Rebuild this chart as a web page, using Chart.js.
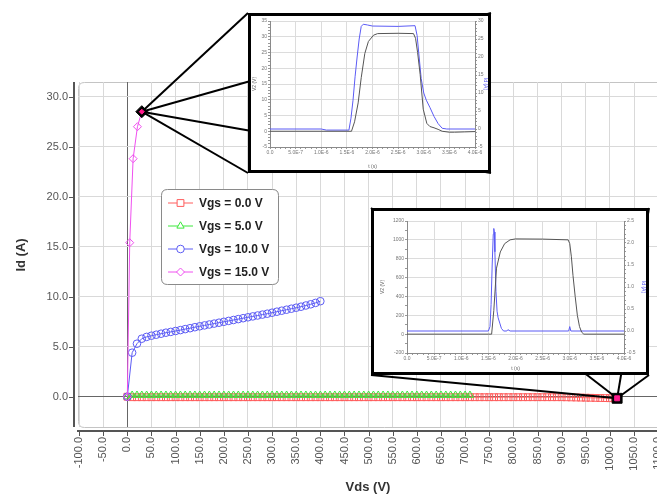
<!DOCTYPE html>
<html>
<head>
<meta charset="utf-8">
<script src="https://cdn.jsdelivr.net/npm/chart.js@4.4.1/dist/chart.umd.min.js"></script>
<style>
  html, body { margin: 0; padding: 0; background: #fff; overflow: hidden; }
  #wrap { position: relative; width: 657px; height: 496px; overflow: hidden; }
  #main { position: absolute; left: 0; top: 0; }
  .zoombox { position: absolute; border: 3px solid #000; background: #fff; box-sizing: border-box; }
  .zoombox canvas { position: absolute; left: 0; top: 0; }
</style>
</head>
<body>
<div id="wrap">
  <canvas id="main" width="700" height="496"></canvas>
  <div class="zoombox" id="boxTop"><canvas id="insetTop"></canvas></div>
  <div class="zoombox" id="boxLow"><canvas id="insetLow"></canvas></div>
</div>
<script>
// ---- main chart data: Id (A) vs Vds (V) ----
const vds0 = [0,10,20,30,40,50,60,70,80,90,100,110,120,130,140,150,160,170,180,190,
  200,210,220,230,240,250,260,270,280,290,300,310,320,330,340,350,360,370,380,390,
  400,410,420,430,440,450,460,470,480,490,500,510,520,530,540,550,560,570,580,590,
  600,610,620,630,640,650,660,670,680,690,700,710,720,730,740,750,760,770,780,790,
  800,810,820,830,840,850,860,870,880,890,900,910,920,930,940,950,960,970,980,990,
  1000,1010];
const id0 = [0,-0.05,-0.05,-0.05,-0.05,-0.05,-0.05,-0.05,-0.05,-0.05,
  -0.05,-0.05,-0.05,-0.05,-0.05,-0.05,-0.05,-0.05,-0.05,-0.05,
  -0.05,-0.05,-0.05,-0.05,-0.05,-0.05,-0.05,-0.05,-0.05,-0.05,
  -0.05,-0.05,-0.05,-0.05,-0.05,-0.05,-0.05,-0.05,-0.05,-0.05,
  -0.05,-0.05,-0.05,-0.05,-0.05,-0.05,-0.05,-0.05,-0.05,-0.05,
  -0.05,-0.05,-0.05,-0.05,-0.05,-0.05,-0.05,-0.05,-0.05,-0.05,
  -0.05,-0.05,-0.05,-0.05,-0.05,-0.05,-0.05,-0.05,-0.05,-0.05,
  -0.05,-0.05,-0.05,-0.05,-0.05,-0.05,-0.05,-0.05,-0.05,-0.05,
  -0.05,-0.05,-0.05,-0.05,-0.05,-0.05,-0.05,-0.05,-0.05,-0.05,
  -0.05,-0.06,-0.07,-0.08,-0.09,-0.10,-0.11,-0.12,-0.13,-0.14,
  -0.15,-0.16];

const vds5 = [0,10,20,30,40,50,60,70,80,90,100,110,120,130,140,150,160,170,180,190,
  200,210,220,230,240,250,260,270,280,290,300,310,320,330,340,350,360,370,380,390,
  400,410,420,430,440,450,460,470,480,490,500,510,520,530,540,550,560,570,580,590,
  600,610,620,630,640,650,660,670,680,690,700,710];
const id5 = [0,0.15,0.15,0.15,0.15,0.15,0.15,0.15,0.15,0.15,
  0.15,0.15,0.15,0.15,0.15,0.15,0.15,0.15,0.15,0.15,
  0.15,0.15,0.15,0.15,0.15,0.15,0.15,0.15,0.15,0.15,
  0.15,0.15,0.15,0.15,0.15,0.15,0.15,0.15,0.15,0.15,
  0.15,0.15,0.15,0.15,0.15,0.15,0.15,0.15,0.15,0.15,
  0.15,0.15,0.15,0.15,0.15,0.15,0.15,0.15,0.15,0.15,
  0.15,0.15,0.15,0.15,0.15,0.15,0.15,0.15,0.15,0.15,
  0.15,0.15];

const vds10 = [0,10,20,30,40,50,60,70,80,90,100,110,120,130,140,150,160,170,180,190,
  200,210,220,230,240,250,260,270,280,290,300,310,320,330,340,350,360,370,380,390,400];
const id10 = [0,4.4,5.3,5.8,5.98,6.1,6.2,6.3,6.4,6.48,6.57,6.66,6.76,6.85,6.95,7.04,7.13,7.22,7.31,7.4,
  7.49,7.58,7.67,7.76,7.85,7.94,8.03,8.12,8.21,8.3,8.4,8.5,8.6,8.7,8.8,8.9,9.0,9.12,9.24,9.38,9.55];

const vds15 = [0, 5, 12, 21, 30];
const id15 = [0, 15.4, 23.8, 27.0, 28.5];

const xTicks = [-100,-50,0,50,100,150,200,250,300,350,400,450,500,550,600,650,700,750,800,850,900,950,1000,1050,1100];
const yTicks = [0,5,10,15,20,25,30];

// zoomed operating points (Vds, Id)
const calloutVds = [30, 1015];
const calloutId = [28.5, -0.16];

// ---- inset waveforms, time in microseconds ----
const topTimeV = [0,1.59,1.65,1.72,1.78,1.85,1.92,2.02,2.1,2.5,2.8,2.84,2.88,2.93,2.99,3.06,3.12,3.2,3.28,3.36,3.5,3.6,3.8,4.0];
const topV2 = [0,0,3,9,17,24.7,28.5,30.5,31,31.1,31,29.5,25,18,7,2.5,1.5,1.1,0.6,0,-0.3,-0.3,-0.2,-0.1];
const topTimeI = [0,1.0,1.1,1.54,1.58,1.62,1.66,1.7,1.74,1.78,1.82,1.9,2.0,2.5,2.83,2.87,2.91,2.95,3.0,3.05,3.12,3.2,3.28,3.36,3.45,4.0];
const topId = [0,0,-0.3,-0.3,3,8,14.5,20,25,28.5,29.1,28.9,28.6,28.5,28.7,26,20,14,10,8,6,3.5,1.5,0.2,0,0];

const lowTimeV = [0,1.5,1.56,1.6,1.65,1.72,1.8,1.9,2.0,2.5,2.97,3.0,3.03,3.06,3.1,3.14,3.18,3.22,3.26,4.0];
const lowV2 = [0,0,0,250,700,872,960,1000,1010,1008,1000,960,820,620,400,200,80,20,0,0];
const lowTimeI = [0,1.5,1.53,1.55,1.57,1.59,1.6,1.61,1.62,1.64,1.66,1.68,1.71,1.74,1.78,1.84,1.86,1.9,2.98,3.0,3.02,4.0];
const lowId = [0,0,0.1,0.6,1.5,2.2,2.33,2.25,1.8,0.9,0.45,0.3,0.18,0.06,0,0,0.03,0,0,0.1,0,0];

const tMajor = [0,0.5,1.0,1.5,2.0,2.5,3.0,3.5,4.0];
const tLabels = ['0.0','5.0E-7','1.0E-6','1.5E-6','2.0E-6','2.5E-6','3.0E-6','3.5E-6','4.0E-6'];
const topLeftMajor = [-5,0,5,10,15,20,25,30,35];
const topLeftLabels = ['-5','0','5','10','15','20','25','30','35'];
const topRightMajor = [-5,0,5,10,15,20,25,30];
const topRightLabels = ['-5','0','5','10','15','20','25','30'];
const lowLeftMajor = [-200,0,200,400,600,800,1000,1200];
const lowLeftLabels = ['-200','0','200','400','600','800','1000','1200'];
const lowRightMajor = [-0.5,0,0.5,1.0,1.5,2.0,2.5];
const lowRightLabels = ['-0.5','0.0','0.5','1.0','1.5','2.0','2.5'];

// ---- layout ----
const fam = '"Liberation Sans", Arial, sans-serif';
const boxTop = { x: 248, y: 13, w: 243, h: 160 };
const boxLow = { x: 371, y: 208, w: 278, h: 167 };

const series = [
  { label: 'Vgs = 0.0 V', xs: vds0, ys: id0, color: '#ff5c5c', style: 'rect', r: 4.8, order: 3 },
  { label: 'Vgs = 5.0 V', xs: vds5, ys: id5, color: '#3ce83c', style: 'triangle', r: 4.2, order: 2 },
  { label: 'Vgs = 10.0 V', xs: vds10, ys: id10, color: '#5c5cf5', style: 'circle', r: 3.8, order: 1 },
  { label: 'Vgs = 15.0 V', xs: vds15, ys: id15, color: '#f050f0', style: 'rectRot', r: 4, order: 0 }
];

function pts(xs, ys) { return xs.map((x, i) => ({ x: x, y: ys[i] })); }

function drawMark(ctx, style, x, y, r) {
  ctx.beginPath();
  if (style === 'rect') {
    const s = r * Math.SQRT1_2;
    ctx.rect(x - s, y - s, 2 * s, 2 * s);
  } else if (style === 'triangle') {
    ctx.moveTo(x, y - r);
    ctx.lineTo(x + r * 0.866, y + r * 0.5);
    ctx.lineTo(x - r * 0.866, y + r * 0.5);
    ctx.closePath();
  } else if (style === 'circle') {
    ctx.arc(x, y, r, 0, Math.PI * 2);
  } else {
    ctx.moveTo(x, y - r); ctx.lineTo(x + r, y); ctx.lineTo(x, y + r); ctx.lineTo(x - r, y);
    ctx.closePath();
  }
  ctx.fill();
  ctx.stroke();
}

function roundRect(ctx, x, y, w, h, r) {
  ctx.beginPath();
  ctx.moveTo(x + r, y);
  ctx.lineTo(x + w - r, y); ctx.quadraticCurveTo(x + w, y, x + w, y + r);
  ctx.lineTo(x + w, y + h - r); ctx.quadraticCurveTo(x + w, y + h, x + w - r, y + h);
  ctx.lineTo(x + r, y + h); ctx.quadraticCurveTo(x, y + h, x, y + h - r);
  ctx.lineTo(x, y + r); ctx.quadraticCurveTo(x, y, x + r, y);
  ctx.closePath();
}

// plot frame, axis lines, legend, titles and zoom callouts
const framePlugin = {
  id: 'frame',
  beforeDraw(chart) {
    const ctx = chart.ctx, a = chart.chartArea;
    ctx.save();
    roundRect(ctx, a.left + 0.5, a.top + 0.5, a.right - a.left, a.bottom - a.top, 6);
    ctx.fillStyle = '#fff';
    ctx.fill();
    ctx.strokeStyle = '#c4c4c4';
    ctx.lineWidth = 1;
    ctx.stroke();
    ctx.restore();
  },
  afterDatasetsDraw(chart) {
    const ctx = chart.ctx, xs = chart.scales.x, ys = chart.scales.y;
    [boxTop, boxLow].forEach((b, i) => {
      const px = xs.getPixelForValue(calloutVds[i]);
      const py = ys.getPixelForValue(calloutId[i]);
      ctx.save();
      ctx.strokeStyle = '#000';
      ctx.lineWidth = 2;
      [[b.x, b.y], [b.x + b.w, b.y], [b.x, b.y + b.h], [b.x + b.w, b.y + b.h]].forEach(c => {
        ctx.beginPath(); ctx.moveTo(px, py); ctx.lineTo(c[0], c[1]); ctx.stroke();
      });
      ctx.fillStyle = '#000';
      ctx.lineWidth = 1;
      drawMark(ctx, i === 0 ? 'rectRot' : 'rect', px, py, i === 0 ? 6 : 7);
      ctx.fillStyle = '#ff1a8c';
      ctx.strokeStyle = '#ff1a8c';
      drawMark(ctx, i === 0 ? 'rectRot' : 'rect', px, py, i === 0 ? 2.5 : 3.5);
      ctx.restore();
    });
  },
  afterDraw(chart) {
    const ctx = chart.ctx, a = chart.chartArea, xs = chart.scales.x, ys = chart.scales.y;
    ctx.save();
    // axis lines, offset from the plot frame
    ctx.strokeStyle = '#555';
    ctx.lineWidth = 2;
    ctx.beginPath(); ctx.moveTo(74, a.top); ctx.lineTo(74, a.bottom); ctx.stroke();
    ctx.beginPath(); ctx.moveTo(77, 431); ctx.lineTo(a.right, 431); ctx.stroke();
    ctx.lineWidth = 1;
    yTicks.forEach(v => {
      const y = Math.round(ys.getPixelForValue(v)) + 0.5;
      ctx.beginPath(); ctx.moveTo(69, y); ctx.lineTo(74, y); ctx.stroke();
    });
    xTicks.forEach(v => {
      const x = Math.round(xs.getPixelForValue(v)) + 0.5;
      ctx.beginPath(); ctx.moveTo(x, 431); ctx.lineTo(x, 436); ctx.stroke();
    });
    // axis titles
    ctx.fillStyle = '#333';
    ctx.font = 'bold 13px ' + fam;
    ctx.textAlign = 'center';
    ctx.textBaseline = 'middle';
    ctx.fillText('Vds (V)', 368, 487);
    ctx.save();
    ctx.translate(21, 255);
    ctx.rotate(-Math.PI / 2);
    ctx.fillText('Id (A)', 0, 0);
    ctx.restore();
    // legend
    const lx = 161.5, ly = 189.5, lw = 117, lh = 95;
    roundRect(ctx, lx, ly, lw, lh, 6);
    ctx.fillStyle = '#fff';
    ctx.fill();
    ctx.strokeStyle = '#8a8a8a';
    ctx.lineWidth = 1;
    ctx.stroke();
    series.forEach((s, i) => {
      const yy = 203 + i * 23;
      ctx.strokeStyle = s.color;
      ctx.lineWidth = 1;
      ctx.beginPath(); ctx.moveTo(168, yy); ctx.lineTo(193, yy); ctx.stroke();
      ctx.fillStyle = '#fff';
      drawMark(ctx, s.style, 180.5, yy, s.r);
      ctx.fillStyle = '#222';
      ctx.font = 'bold 12px ' + fam;
      ctx.textAlign = 'left';
      ctx.textBaseline = 'middle';
      ctx.fillText(s.label, 199, yy + 0.5);
    });
    ctx.restore();
  }
};

Chart.defaults.font.family = fam;

new Chart(document.getElementById('main'), {
  type: 'scatter',
  data: {
    datasets: series.map(s => ({
      label: s.label,
      data: pts(s.xs, s.ys),
      showLine: true,
      borderColor: s.color,
      borderWidth: 1,
      pointStyle: s.style,
      pointRadius: s.r,
      pointBorderColor: s.color,
      pointBackgroundColor: 'rgba(0,0,0,0)',
      pointBorderWidth: 1,
      order: s.order
    }))
  },
  options: {
    responsive: false,
    animation: false,
    devicePixelRatio: 1,
    events: [],
    layout: { padding: { top: 82, right: 10, left: 0, bottom: 0 } },
    plugins: { legend: { display: false }, tooltip: { enabled: false } },
    scales: {
      x: {
        type: 'linear', min: -102.2, max: 1166,
        afterBuildTicks: s => { s.ticks = xTicks.map(v => ({ value: v })); },
        afterFit: s => { s.height = 69; },
        grid: { color: c => (c.tick && c.tick.value === 0) ? '#666' : '#d9d9d9', drawTicks: false },
        border: { display: false },
        ticks: {
          autoSkip: false, minRotation: 90, maxRotation: 90, padding: 10,
          color: '#555', font: { family: fam, size: 11 },
          callback: v => v.toFixed(1)
        }
      },
      y: {
        type: 'linear', min: -3.03, max: 31.47,
        afterBuildTicks: s => { s.ticks = yTicks.map(v => ({ value: v })); },
        afterFit: s => { s.width = 78; },
        grid: { color: c => (c.tick && c.tick.value === 0) ? '#666' : '#d9d9d9', drawTicks: false },
        border: { display: false },
        ticks: { padding: 10, color: '#555', font: { family: fam, size: 11 }, callback: v => v.toFixed(1) }
      }
    }
  },
  plugins: [framePlugin]
});

// ---- insets ----
function majorIdx(v, majors) {
  if (v === undefined || v === null) return -1;
  for (let i = 0; i < majors.length; i++) if (Math.abs(v - majors[i]) < 1e-6) return i;
  return -1;
}

function insetAxis(pos, min, max, minorStep, majors, labels, size, title, titleColor, titlePad) {
  return {
    type: 'linear', position: pos, min: min, max: max,
    afterBuildTicks: s => {
      const t = [];
      const n = Math.round((max - min) / minorStep);
      for (let i = 0; i <= n; i++) t.push({ value: +(min + i * minorStep).toFixed(6) });
      s.ticks = t;
    },
    afterFit: s => { if (pos === 'bottom') s.height = size; else s.width = size; },
    grid: {
      color: c => majorIdx(c.tick && c.tick.value, majors) >= 0 ? '#dcdcdc' : 'rgba(0,0,0,0)',
      drawOnChartArea: pos !== 'right',
      tickLength: 2, tickColor: '#999', lineWidth: 1
    },
    border: { display: true, color: '#8a8a8a' },
    ticks: {
      autoSkip: false, maxRotation: 0, minRotation: 0, padding: 1,
      color: '#777', font: { family: fam, size: 5 },
      callback: v => { const k = majorIdx(v, majors); return k >= 0 ? labels[k] : ''; }
    },
    title: { display: true, text: title, color: titleColor, font: { family: fam, size: 5 }, padding: { top: titlePad, bottom: 0 } }
  };
}

function makeInset(boxId, canvasId, box, o) {
  const div = document.getElementById(boxId);
  div.style.left = box.x + 'px';
  div.style.top = box.y + 'px';
  div.style.width = box.w + 'px';
  div.style.height = box.h + 'px';
  const cv = document.getElementById(canvasId);
  cv.width = box.w - 6;
  cv.height = box.h - 6;
  new Chart(cv, {
    type: 'scatter',
    data: {
      datasets: [
        { data: pts(o.tA, o.vA), yAxisID: 'y', showLine: true, borderColor: '#555', borderWidth: 1, pointRadius: 0 },
        { data: pts(o.tB, o.vB), yAxisID: 'y2', showLine: true, borderColor: '#5b5bf5', borderWidth: 1, pointRadius: 0 }
      ]
    },
    options: {
      responsive: false, animation: false, devicePixelRatio: 1, events: [],
      layout: { padding: { top: o.top, left: 0, right: 0, bottom: 0 } },
      plugins: { legend: { display: false }, tooltip: { enabled: false } },
      scales: {
        x: insetAxis('bottom', 0, 4, 0.1, tMajor, tLabels, o.bottomH, 't (s)', '#666', o.xPad),
        y: insetAxis('left', o.left[0], o.left[1], o.left[2], o.leftMajor, o.leftLabels, o.leftW, 'V2 (V)', '#666', o.yPad),
        y2: insetAxis('right', o.right[0], o.right[1], o.right[2], o.rightMajor, o.rightLabels, o.rightW, 'Id (A)', '#4a4af0', 0)
      }
    }
  });
}

makeInset('boxTop', 'insetTop', boxTop, {
  tA: topTimeV, vA: topV2, tB: topTimeI, vB: topId,
  left: [-5, 35, 1], leftMajor: topLeftMajor, leftLabels: topLeftLabels,
  right: [-5, 30, 1], rightMajor: topRightMajor, rightLabels: topRightLabels,
  top: 5, leftW: 19, rightW: 13, bottomH: 23, xPad: 3, yPad: 1
});

makeInset('boxLow', 'insetLow', boxLow, {
  tA: lowTimeV, vA: lowV2, tB: lowTimeI, vB: lowId,
  left: [-200, 1200, 100], leftMajor: lowLeftMajor, leftLabels: lowLeftLabels,
  right: [-0.5, 2.5, 0.1], rightMajor: lowRightMajor, rightLabels: lowRightLabels,
  top: 10, leftW: 33, rightW: 22, bottomH: 19, xPad: 1, yPad: 6
});
</script>
</body>
</html>
